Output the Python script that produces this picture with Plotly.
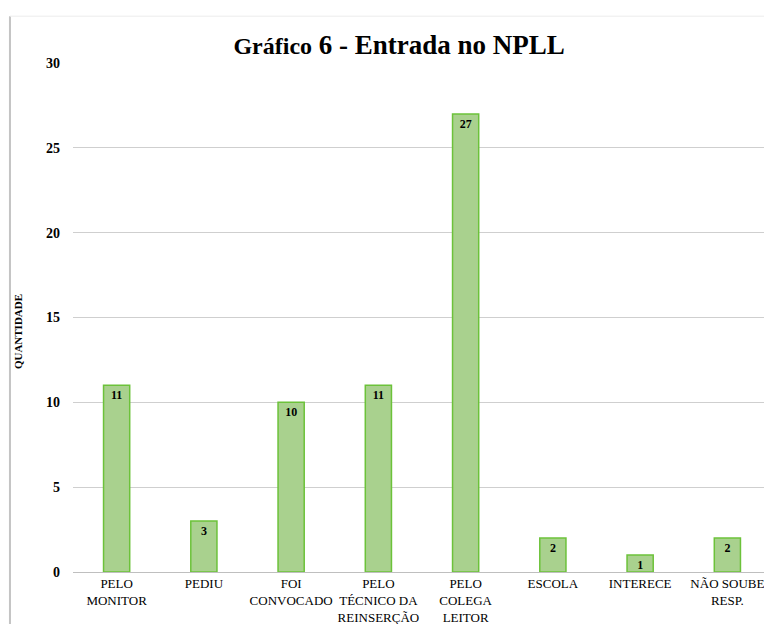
import plotly.graph_objects as go

categorias = [
    "PELO<br>MONITOR",
    "PEDIU",
    "FOI<br>CONVOCADO",
    "PELO<br>TÉCNICO DA<br>REINSERÇÃO",
    "PELO<br>COLEGA<br>LEITOR",
    "ESCOLA",
    "INTERECE",
    "NÃO SOUBE<br>RESP.",
]
quantidade = [11, 3, 10, 11, 27, 2, 1, 2]
y_ticks = [0, 5, 10, 15, 20, 25, 30]

SERIF = "Liberation Serif, Times New Roman, serif"

fig = go.Figure(
    go.Bar(
        x=categorias,
        y=quantidade,
        text=quantidade,
        textposition="inside",
        insidetextanchor="end",
        textangle=0,
        constraintext="none",
        textfont=dict(family=SERIF, size=12, color="black", weight="bold"),
        marker=dict(color="#a9d18e", line=dict(color="#6cc23a", width=1.5)),
        width=0.3,
    )
)

# a pagina tem margem de 8px no body, por isso a figura e menor
fig.update_layout(
    width=764,
    height=616,
    template="plotly_white",
    plot_bgcolor="white",
    paper_bgcolor="white",
    margin=dict(l=65, r=1, t=55, b=52, autoexpand=False),
    showlegend=False,
    title=dict(
        text="<span style='font-size:24px'>Gráfico</span> 6 - Entrada no NPLL",
        font=dict(family=SERIF, size=27, color="black", weight="bold"),
        x=0.512,
        xref="container",
        xanchor="center",
        y=0.941,
        yref="container",
        yanchor="middle",
    ),
)

fig.update_xaxes(
    automargin=False,
    showgrid=False,
    showline=False,
    ticks="",
    tickfont=dict(family=SERIF, size=13, color="black"),
    ticklabelstandoff=2,
)
fig.update_yaxes(
    automargin=False,
    range=[0, 30],
    tickvals=y_ticks,
    showgrid=True,
    gridcolor="#cfcfcf",
    gridwidth=1,
    zeroline=True,
    zerolinecolor="#bfbfbf",
    zerolinewidth=1,
    showline=False,
    ticks="",
    ticklabelstandoff=12,
    tickfont=dict(family=SERIF, size=14, color="black", weight="bold"),
)

fig.add_annotation(
    text="QUANTIDADE",
    xref="paper",
    yref="paper",
    x=-0.079,
    y=0.473,
    xanchor="center",
    yanchor="middle",
    textangle=-90,
    showarrow=False,
    font=dict(family=SERIF, size=11, color="black", weight="bold"),
)

# moldura da figura original (bordas esquerda e superior)
fig.add_shape(
    type="line", xref="paper", yref="paper",
    x0=-0.0903, x1=-0.0903, y0=1.092, y1=-0.11,
    line=dict(color="#c4c4c4", width=2),
)
fig.add_shape(
    type="line", xref="paper", yref="paper",
    x0=-0.0903, x1=1.01, y0=1.092, y1=1.092,
    line=dict(color="#ececec", width=1),
)

fig.write_html("out.html")
